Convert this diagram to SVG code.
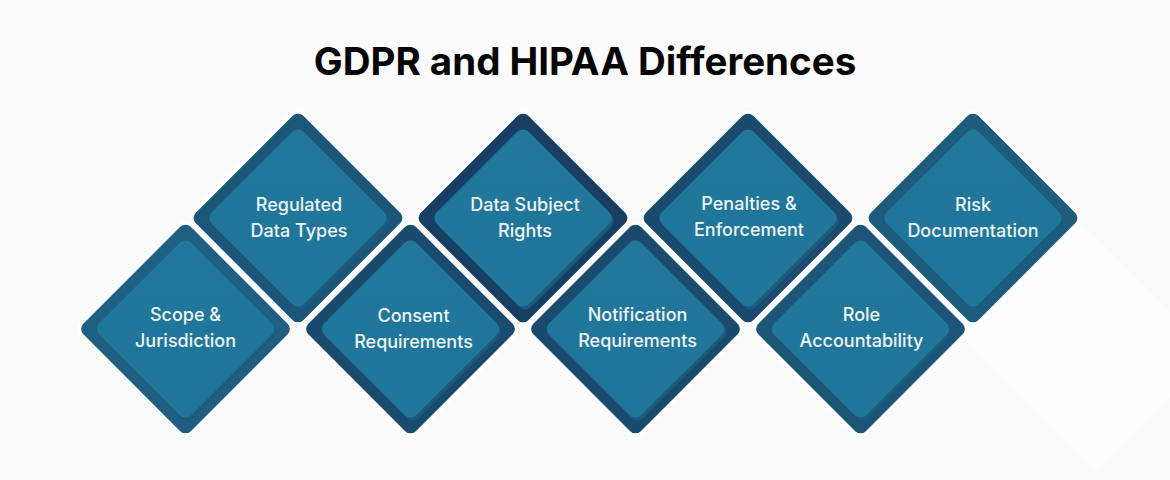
<svg xmlns="http://www.w3.org/2000/svg" width="1170" height="480" viewBox="0 0 1170 480">
  <defs>
    <style>
      .title { font-family: Inter, "Liberation Sans", sans-serif; font-weight: 700; font-size: 38.5px; fill: #050505; }
      .lbl { font-family: Inter, "Liberation Sans", sans-serif; font-weight: 500; font-size: 18px; fill: #eef5f8; text-anchor: middle; }
      .outer { stroke: #ffffff; stroke-width: 3; }
      .shadow { fill: #1a5c7e; }
      .inner { fill: url(#innerGrad); }
    </style>
    <linearGradient id="innerGrad" x1="0" y1="0" x2="1" y2="1">
      <stop offset="0" stop-color="#21789a"/>
      <stop offset="1" stop-color="#20759a"/>
    </linearGradient>
    <rect id="outerShape" x="-77.5" y="-77.5" width="155" height="155" rx="9" transform="rotate(45)"/>
    <rect id="innerShape" x="-65" y="-65" width="130" height="130" rx="8" transform="rotate(45)"/>
  </defs>

  <rect x="0" y="0" width="1170" height="480" fill="#fbfbfb"/>
  <path d="M 1079 221 L 1213 355 L 1096.5 471.5 L 962.5 337.5 Z" fill="#fefefe"/>

  <text class="title" x="585" y="75" text-anchor="middle">GDPR and HIPAA Differences</text>

  <g id="connectors"></g>

  <g id="node-scope" transform="translate(185.5,329)">
    <use href="#outerShape" class="outer" fill="#1e5f82"/>
    <use href="#innerShape" class="shadow" transform="translate(2,3)"/>
    <use href="#innerShape" class="inner"/>
    <text class="lbl" x="0" y="-8">Scope &amp;</text>
    <text class="lbl" x="0" y="18">Jurisdiction</text>
  </g>

  <g id="node-regulated" transform="translate(298,218)">
    <use href="#outerShape" class="outer" fill="#1c5679"/>
    <use href="#innerShape" class="shadow" transform="translate(2,3)"/>
    <use href="#innerShape" class="inner"/>
    <text class="lbl" x="1" y="-7">Regulated</text>
    <text class="lbl" x="1" y="19">Data Types</text>
  </g>

  <g id="node-consent" transform="translate(410.5,329)">
    <use href="#outerShape" class="outer" fill="#1a4b6f"/>
    <use href="#innerShape" class="shadow" transform="translate(2,3)"/>
    <use href="#innerShape" class="inner"/>
    <text class="lbl" x="3" y="-7">Consent</text>
    <text class="lbl" x="3" y="19">Requirements</text>
  </g>

  <g id="node-rights" transform="translate(523,218)">
    <use href="#outerShape" class="outer" fill="#183f63"/>
    <use href="#innerShape" class="shadow" transform="translate(2,3)"/>
    <use href="#innerShape" class="inner"/>
    <text class="lbl" x="2" y="-7">Data Subject</text>
    <text class="lbl" x="2" y="19">Rights</text>
  </g>

  <g id="node-notification" transform="translate(635.5,329)">
    <use href="#outerShape" class="outer" fill="#1a4a6e"/>
    <use href="#innerShape" class="shadow" transform="translate(2,3)"/>
    <use href="#innerShape" class="inner"/>
    <text class="lbl" x="2" y="-8">Notification</text>
    <text class="lbl" x="2" y="18">Requirements</text>
  </g>

  <g id="node-penalties" transform="translate(748,218)">
    <use href="#outerShape" class="outer" fill="#1a4a6e"/>
    <use href="#innerShape" class="shadow" transform="translate(2,3)"/>
    <use href="#innerShape" class="inner"/>
    <text class="lbl" x="1" y="-8">Penalties &amp;</text>
    <text class="lbl" x="1" y="18">Enforcement</text>
  </g>

  <g id="node-role" transform="translate(860.5,329)">
    <use href="#outerShape" class="outer" fill="#1c5578"/>
    <use href="#innerShape" class="shadow" transform="translate(2,3)"/>
    <use href="#innerShape" class="inner"/>
    <text class="lbl" x="1" y="-8">Role</text>
    <text class="lbl" x="1" y="18">Accountability</text>
  </g>

  <g id="node-risk" transform="translate(973,218)">
    <use href="#outerShape" class="outer" fill="#1e5c7e"/>
    <use href="#innerShape" class="shadow" transform="translate(2,3)"/>
    <use href="#innerShape" class="inner"/>
    <text class="lbl" x="0" y="-7">Risk</text>
    <text class="lbl" x="0" y="19">Documentation</text>
  </g>
</svg>
